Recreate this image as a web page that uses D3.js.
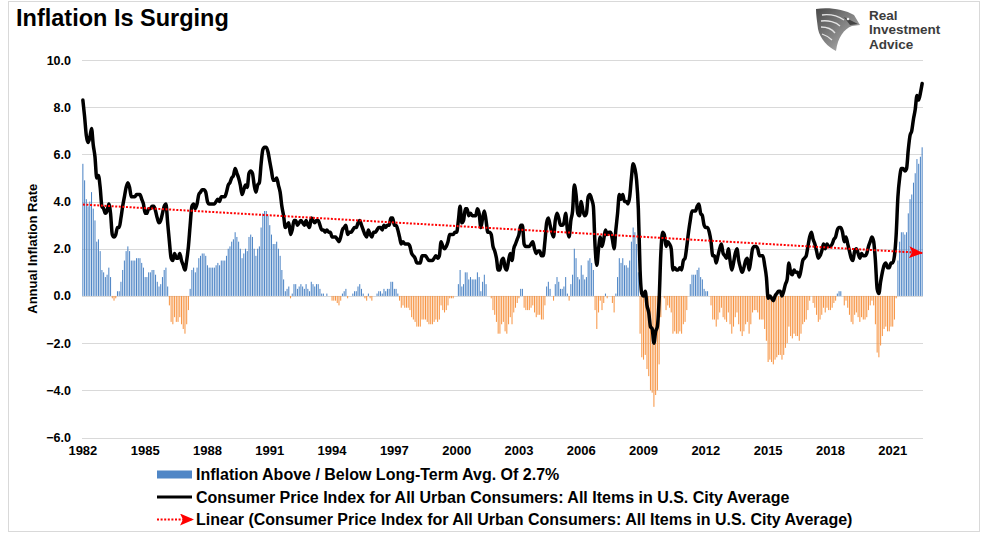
<!DOCTYPE html>
<html>
<head>
<meta charset="utf-8">
<script src="https://cdn.jsdelivr.net/npm/d3@7/dist/d3.min.js"></script>
<style>
  html, body { margin: 0; padding: 0; background: #fff; }
  svg { display: block; font-family: "Liberation Sans", Arial, sans-serif; }
</style>
</head>
<body>
<svg id="chart" width="984" height="535"></svg>
<script>
// ---------------- DATA ----------------
const title = "Inflation Is Surging";
const yAxisTitle = "Annual Inflation Rate";
const startYear = 1982;           // first month: Jan 1982, monthly data
const longTermAvg = 2.7;          // long-term average inflation
// CPI-U annual inflation rate (%), monthly, Jan 1982 - Jun 2022
const cpi = [
  8.3, 7.6, 6.8, 6.5, 6.7, 7.1, 6.4, 5.9, 5.0, 5.1, 4.6, 3.8,   // 1982
  3.7, 3.5, 3.6, 3.9, 3.5, 2.6, 2.5, 2.6, 2.9, 2.9, 3.3, 3.8,   // 1983
  4.2, 4.6, 4.8, 4.6, 4.2, 4.2, 4.2, 4.3, 4.3, 4.3, 4.1, 3.9,   // 1984
  3.5, 3.5, 3.7, 3.7, 3.8, 3.8, 3.6, 3.3, 3.1, 3.2, 3.5, 3.8,   // 1985
  3.9, 3.1, 2.3, 1.6, 1.5, 1.8, 1.6, 1.6, 1.8, 1.5, 1.3, 1.1,   // 1986
  1.5, 2.1, 3.0, 3.8, 3.9, 3.7, 3.9, 4.3, 4.4, 4.5, 4.5, 4.4,   // 1987
  4.0, 3.9, 3.9, 3.9, 3.9, 4.0, 4.1, 4.0, 4.2, 4.2, 4.2, 4.4,   // 1988
  4.7, 4.8, 5.0, 5.1, 5.4, 5.2, 5.0, 4.7, 4.3, 4.5, 4.7, 4.6,   // 1989
  5.2, 5.3, 5.2, 4.7, 4.4, 4.7, 4.8, 5.6, 6.2, 6.3, 6.3, 6.1,   // 1990
  5.7, 5.3, 4.9, 4.9, 5.0, 4.7, 4.4, 3.8, 3.4, 2.9, 3.0, 3.1,   // 1991
  2.6, 2.8, 3.2, 3.2, 3.0, 3.1, 3.2, 3.1, 3.0, 3.2, 3.0, 2.9,   // 1992
  3.3, 3.2, 3.1, 3.2, 3.2, 3.0, 2.8, 2.8, 2.7, 2.8, 2.7, 2.7,   // 1993
  2.5, 2.5, 2.5, 2.4, 2.3, 2.5, 2.8, 2.9, 3.0, 2.6, 2.7, 2.7,   // 1994
  2.8, 2.9, 2.9, 3.1, 3.2, 3.0, 2.8, 2.6, 2.5, 2.8, 2.6, 2.5,   // 1995
  2.7, 2.7, 2.8, 2.9, 2.9, 2.8, 3.0, 2.9, 3.0, 3.0, 3.3, 3.3,   // 1996
  3.0, 3.0, 2.8, 2.5, 2.2, 2.3, 2.2, 2.2, 2.2, 2.1, 1.8, 1.7,   // 1997
  1.6, 1.4, 1.4, 1.4, 1.7, 1.7, 1.7, 1.6, 1.5, 1.5, 1.5, 1.6,   // 1998
  1.7, 1.6, 1.7, 2.3, 2.1, 2.0, 2.1, 2.3, 2.6, 2.6, 2.6, 2.7,   // 1999
  2.7, 3.2, 3.8, 3.1, 3.2, 3.7, 3.7, 3.4, 3.5, 3.4, 3.4, 3.4,   // 2000
  3.7, 3.5, 2.9, 3.3, 3.6, 3.2, 2.7, 2.7, 2.6, 2.1, 1.9, 1.6,   // 2001
  1.1, 1.1, 1.5, 1.6, 1.2, 1.1, 1.5, 1.8, 1.5, 2.0, 2.2, 2.4,   // 2002
  2.6, 3.0, 3.0, 2.2, 2.1, 2.1, 2.1, 2.2, 2.3, 2.0, 1.8, 1.9,   // 2003
  1.9, 1.7, 1.7, 2.3, 3.1, 3.3, 3.0, 2.7, 2.5, 3.2, 3.5, 3.3,   // 2004
  3.0, 3.0, 3.1, 3.5, 2.8, 2.5, 3.2, 3.6, 4.7, 4.3, 3.5, 3.4,   // 2005
  4.0, 3.6, 3.4, 3.5, 4.2, 4.3, 4.1, 3.8, 2.1, 1.3, 2.0, 2.5,   // 2006
  2.1, 2.4, 2.8, 2.6, 2.7, 2.7, 2.4, 2.0, 2.8, 3.5, 4.3, 4.1,   // 2007
  4.3, 4.0, 4.0, 3.9, 4.2, 5.0, 5.6, 5.4, 4.9, 3.7, 1.1, 0.1,   // 2008
  0.0, 0.2, -0.4, -0.7, -1.3, -1.4, -2.0, -1.5, -1.3, -0.2, 1.8, 2.7, // 2009
  2.6, 2.1, 2.3, 2.2, 2.0, 1.1, 1.2, 1.1, 1.1, 1.2, 1.1, 1.5,   // 2010
  1.6, 2.1, 2.7, 3.2, 3.6, 3.6, 3.6, 3.8, 3.9, 3.5, 3.4, 3.0,   // 2011
  2.9, 2.9, 2.7, 2.3, 1.7, 1.7, 1.4, 1.7, 2.0, 2.2, 1.8, 1.7,   // 2012
  1.6, 2.0, 1.5, 1.1, 1.4, 1.8, 2.0, 1.5, 1.2, 1.0, 1.2, 1.5,   // 2013
  1.6, 1.1, 1.5, 2.0, 2.1, 2.1, 2.0, 1.7, 1.7, 1.7, 1.3, 0.8,   // 2014
  -0.1, 0.0, -0.1, -0.2, 0.0, 0.1, 0.2, 0.2, 0.0, 0.2, 0.5, 0.7, // 2015
  1.4, 1.0, 0.9, 1.1, 1.0, 1.0, 0.8, 1.1, 1.5, 1.6, 1.7, 2.1,   // 2016
  2.5, 2.7, 2.4, 2.2, 1.9, 1.6, 1.7, 1.9, 2.2, 2.0, 2.2, 2.1,   // 2017
  2.1, 2.2, 2.4, 2.5, 2.8, 2.9, 2.9, 2.7, 2.3, 2.5, 2.2, 1.9,   // 2018
  1.6, 1.5, 1.9, 2.0, 1.8, 1.6, 1.8, 1.7, 1.7, 1.8, 2.1, 2.3,   // 2019
  2.5, 2.3, 1.5, 0.3, 0.1, 0.6, 1.0, 1.3, 1.4, 1.2, 1.2, 1.4,   // 2020
  1.4, 1.7, 2.6, 4.2, 5.0, 5.4, 5.4, 5.3, 5.4, 6.2, 6.8, 7.0,   // 2021
  7.5, 7.9, 8.5, 8.3, 8.6, 9.0                                  // 2022
];
const yTicks = [-6, -4, -2, 0, 2, 4, 6, 8, 10];
const xTickYears = [1982, 1985, 1988, 1991, 1994, 1997, 2000, 2003, 2006, 2009, 2012, 2015, 2018, 2021];
const legendLabels = [
  "Inflation Above / Below Long-Term Avg. Of 2.7%",
  "Consumer Price Index for All Urban Consumers: All Items in U.S. City Average",
  "Linear (Consumer Price Index for All Urban Consumers: All Items in U.S. City Average)"
];
const logoLines = ["Real", "Investment", "Advice"];

// ---------------- DERIVED ----------------
const idx = d3.range(cpi.length);
const deviation = cpi.map(v => v - longTermAvg);   // bars: above / below long-term avg
// least-squares linear trend of CPI (Excel "Linear" trendline)
const n = cpi.length;
const mx = d3.mean(idx), my = d3.mean(cpi);
const slope = d3.sum(idx, i => (i - mx) * (cpi[i] - my)) / d3.sum(idx, i => (i - mx) ** 2);
const intercept = my - slope * mx;
const trend = [0, n - 1].map(i => ({ i, v: intercept + slope * i }));

// ---------------- LAYOUT ----------------
const svg = d3.select("#chart");
const plot = { left: 82, right: 923, top: 60, bottom: 437.5 };
const C = {
  blue: "#4f86c6", orange: "#f79646", grid: "#d9d9d9", frame: "#d9d9d9",
  text: "#000000", red: "#ff0000"
};

const x = d3.scaleBand().domain(idx).range([plot.left, plot.right]).paddingInner(0.4).paddingOuter(0.2);
const xc = i => x(i) + x.bandwidth() / 2;
const y = d3.scaleLinear().domain([-6, 10]).range([plot.bottom, plot.top]);

// outer frame
svg.append("rect").attr("x", 8.5).attr("y", 1.5).attr("width", 971).attr("height", 530)
  .attr("fill", "none").attr("stroke", C.frame).attr("stroke-width", 1);

// title
svg.append("text").attr("x", 16).attr("y", 26)
  .attr("font-size", 23.5).attr("font-weight", "bold").attr("fill", "#000").text(title);

// logo
const defs = svg.append("defs");
const logo = svg.append("g").attr("transform", "translate(814,7)");
const lg = defs.append("linearGradient").attr("id", "shieldGrad").attr("x1", 0).attr("y1", 0).attr("x2", 1).attr("y2", 1);
lg.append("stop").attr("offset", 0).attr("stop-color", "#4a4a4a");
lg.append("stop").attr("offset", 0.6).attr("stop-color", "#8e8e8e");
lg.append("stop").attr("offset", 1).attr("stop-color", "#cfcfcf");
logo.append("path")
  .attr("d", "M2,2 C14,0 30,2 40,8 L46,18 L38,19 C30,22 24,30 22,44 C14,40 6,32 4,22 C3,14 2,8 2,2 Z")
  .attr("fill", "url(#shieldGrad)");
logo.append("path")
  .attr("d", "M8,8 C16,7 24,9 30,13 M7,14 C14,13 22,15 26,19 M7,20 C12,20 18,22 21,26 M8,27 C11,28 15,30 18,33")
  .attr("fill", "none").attr("stroke", "#e4e4e4").attr("stroke-width", 1.3);
logo.append("path").attr("d", "M30,10 L44,17 L36,18 Z").attr("fill", "#444");
logo.append("circle").attr("cx", 34).attr("cy", 12).attr("r", 1.3).attr("fill", "#eee");
logoLines.forEach((t, k) => {
  svg.append("text").attr("x", 869).attr("y", 19.5 + k * 14.5)
    .attr("font-size", 13.5).attr("font-weight", "bold").attr("fill", "#3c3c3c").text(t);
});

// gridlines
svg.append("g").selectAll("line").data(yTicks).join("line")
  .attr("x1", plot.left).attr("x2", plot.right)
  .attr("y1", d => Math.round(y(d)) + 0.5).attr("y2", d => Math.round(y(d)) + 0.5)
  .attr("stroke", C.grid).attr("stroke-width", 1);

// y axis
const yAxis = svg.append("g").attr("transform", `translate(${plot.left},0)`)
  .call(d3.axisLeft(y).tickValues(yTicks).tickFormat(d3.format(".1f")).tickSize(0).tickPadding(11));
yAxis.select(".domain").remove();
yAxis.selectAll("text").attr("font-size", 12.5).attr("font-weight", "bold").attr("fill", C.text)
  .attr("font-family", "Liberation Sans, Arial, sans-serif");

// y title
svg.append("text").attr("transform", `translate(37,${(plot.top + plot.bottom) / 2}) rotate(-90)`)
  .attr("text-anchor", "middle").attr("font-size", 13).attr("font-weight", "bold").attr("fill", C.text)
  .text(yAxisTitle);

// x axis
const tickIdx = xTickYears.map(yr => (yr - startYear) * 12);
const xAxis = svg.append("g").attr("transform", `translate(0,${plot.bottom})`)
  .call(d3.axisBottom(x).tickValues(tickIdx).tickFormat(i => String(startYear + i / 12)).tickSize(0).tickPadding(8));
xAxis.select(".domain").remove();
xAxis.selectAll("text").attr("font-size", 13).attr("font-weight", "bold").attr("fill", C.text)
  .attr("font-family", "Liberation Sans, Arial, sans-serif");

// bars
svg.append("g").selectAll("rect").data(idx).join("rect")
  .attr("x", i => x(i))
  .attr("width", x.bandwidth())
  .attr("y", i => y(Math.max(0, deviation[i])))
  .attr("height", i => Math.abs(y(deviation[i]) - y(0)))
  .attr("fill", i => deviation[i] >= 0 ? C.blue : C.orange);

// CPI line
svg.append("path").datum(idx)
  .attr("d", d3.line().x(i => xc(i)).y(i => y(cpi[i])).curve(d3.curveMonotoneX))
  .attr("fill", "none").attr("stroke", "#000").attr("stroke-width", 3.5)
  .attr("stroke-linejoin", "round").attr("stroke-linecap", "round");

// arrow marker
defs.append("marker").attr("id", "arrow").attr("viewBox", "0 0 14 12")
  .attr("refX", 13).attr("refY", 6).attr("markerWidth", 14).attr("markerHeight", 12)
  .attr("markerUnits", "userSpaceOnUse").attr("orient", "auto")
  .append("path").attr("d", "M0,0 L14,6 L0,12 L3,6 Z").attr("fill", C.red);

// trend line
svg.append("path").datum(trend)
  .attr("d", d3.line().x(d => xc(d.i)).y(d => y(d.v)))
  .attr("fill", "none").attr("stroke", C.red).attr("stroke-width", 2)
  .attr("stroke-dasharray", "2,1.6").attr("marker-end", "url(#arrow)");

// legend
const leg = svg.append("g");
const rowY = [474.5, 497, 519.5];
leg.append("rect").attr("x", 157).attr("y", rowY[0] - 4).attr("width", 35).attr("height", 8).attr("fill", C.blue);
leg.append("line").attr("x1", 157).attr("x2", 192).attr("y1", rowY[1]).attr("y2", rowY[1])
  .attr("stroke", "#000").attr("stroke-width", 3);
leg.append("line").attr("x1", 157).attr("x2", 193).attr("y1", rowY[2]).attr("y2", rowY[2])
  .attr("stroke", C.red).attr("stroke-width", 2).attr("stroke-dasharray", "2,1.6").attr("marker-end", "url(#arrow)");
leg.selectAll("text.leg").data(legendLabels).join("text").attr("class", "leg")
  .attr("x", 196).attr("y", (d, k) => rowY[k] + 5.5)
  .attr("font-size", 16).attr("font-weight", "bold").attr("fill", C.text).text(d => d);
</script>
</body>
</html>
